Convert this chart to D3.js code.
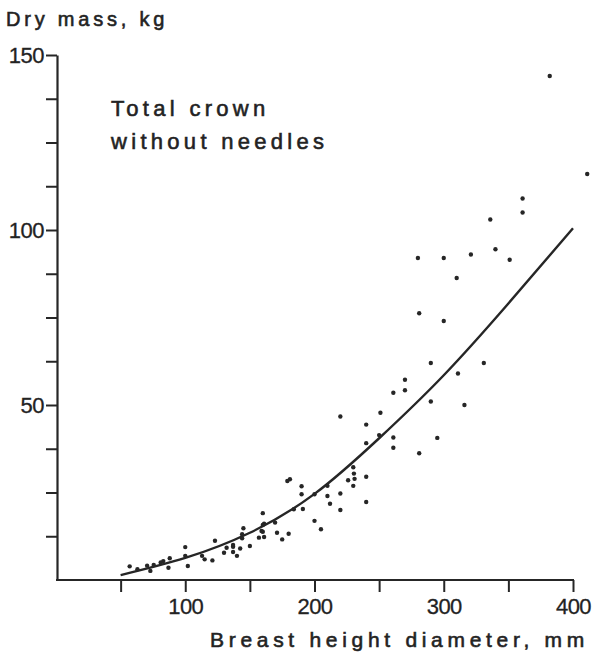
<!DOCTYPE html>
<html>
<head>
<meta charset="utf-8">
<script src="https://cdn.jsdelivr.net/npm/d3@7"></script>
<style>
  html, body { margin: 0; padding: 0; background: #fff; }
  svg { display: block; }
  text { font-family: "Liberation Sans", Arial, Helvetica, sans-serif; fill: #222; }
</style>
</head>
<body>
<svg id="chart" width="597" height="654"></svg>
<script>
// ---- data ----
const diameter = [382, 411, 361, 361, 336, 340, 321, 300, 280, 351, 310, 281, 300, 290, 331, 311, 290, 316,
  270, 270, 261, 251, 220, 240, 250, 261, 295, 281, 261, 240, 230, 230.5, 231, 230, 226, 240, 240, 220, 220,
  210, 210, 212, 200, 190, 190, 181, 179, 191, 184, 200, 205, 160, 169.5, 161, 171, 180, 175, 145, 144, 160,
  161, 157, 160, 159, 123, 144, 137, 132, 142.5, 150, 100, 57, 63, 70.5, 75.6, 73, 83, 88, 87, 100, 102, 113,
  115, 121, 130, 137, 140, 137, 81];
const dryMass = [144, 116, 109, 105, 103, 94.5, 93, 92, 92, 91.5, 86.3, 76.2, 74, 62, 62, 59, 51, 50,
  57.2, 54.2, 53.5, 47.8, 46.7, 44.4, 41.4, 40.7, 40.6, 36.2, 37.8, 39.1, 32.2, 30.4, 28.9, 26.9, 28.5, 29.5, 22.3, 24.7, 20,
  26.9, 24, 21.8, 24.5, 26.8, 24.5, 28.8, 28.3, 20.3, 20.2, 16.9, 14.5, 19.1, 16.4, 16.1, 13.5, 13.2, 11.6, 14.8, 13.1, 13.8,
  12.3, 12.1, 15.7, 14, 11.2, 11.9, 10, 9.2, 9, 9.7, 9.4, 3.9, 3.1, 4.1, 4.3, 2.6, 5.4, 6.2, 3.5, 6.9, 4, 6.9,
  5.9, 5.6, 7.8, 8, 6.9, 9.5, 5];
// fitted curve, read at intervals
const curveD = [50, 100, 150, 200, 250, 300, 350, 400];
const curveM = [1.4, 6.3, 13.5, 24.6, 40.5, 58.5, 79, 100.5];

const xTicks = [50, 100, 150, 200, 250, 300, 350, 400];
const xTickLabels = ["", "100", "", "200", "", "300", "", "400"];
const yTicks = [12.5, 25, 37.5, 50, 62.5, 75, 87.5, 100, 112.5, 125, 137.5, 150];
const yTickLabels = ["", "", "", "50", "", "", "", "100", "", "", "", "150"];

const yTitle = "Dry mass, kg";
const xTitle = "Breast height diameter, mm";
const noteLines = ["Total crown", "without needles"];

// ---- drawing ----
const svg = d3.select("#chart");
const ink = "#262626";

const x = d3.scaleLinear().domain([0, 400]).range([56, 573]);
const y = d3.scaleLinear().domain([0, 150]).range([580, 55]);

// y axis
const yAxis = d3.axisLeft(y)
  .tickValues(yTicks)
  .tickFormat((d, i) => yTickLabels[i])
  .tickSize(11)
  .tickSizeOuter(0)
  .tickPadding(2);
const gy = svg.append("g").attr("transform", `translate(${x(0) + 1},0)`).call(yAxis);
gy.select(".domain").attr("stroke", ink).attr("stroke-width", 2.2);
gy.selectAll(".tick line").attr("stroke", ink).attr("stroke-width", 2);
gy.selectAll(".tick text")
  .attr("font-family", "'Liberation Sans', Arial, sans-serif")
  .attr("font-size", 22).attr("fill", ink)
  .attr("letter-spacing", -0.5)
  .attr("stroke", ink).attr("stroke-width", 0.3)
  .attr("dy", "0.36em");

// x axis
const xAxis = d3.axisBottom(x)
  .tickValues(xTicks)
  .tickFormat((d, i) => xTickLabels[i])
  .tickSize(12)
  .tickSizeOuter(0)
  .tickPadding(6);
const gx = svg.append("g").attr("transform", `translate(0,${y(0)})`).call(xAxis);
gx.select(".domain").attr("stroke", ink).attr("stroke-width", 2.2)
  .attr("d", `M${x(0)},0H${x(400) + 1}`);
gx.selectAll(".tick line").attr("stroke", ink).attr("stroke-width", 2);
gx.selectAll(".tick text")
  .attr("font-family", "'Liberation Sans', Arial, sans-serif")
  .attr("font-size", 22).attr("fill", ink)
  .attr("letter-spacing", -0.5)
  .attr("stroke", ink).attr("stroke-width", 0.3);

// fitted curve
const pts = curveD.map((d, i) => [d, curveM[i]]);
svg.append("path")
  .datum(pts)
  .attr("fill", "none")
  .attr("stroke", ink)
  .attr("stroke-width", 2.4)
  .attr("d", d3.line().x(d => x(d[0])).y(d => y(d[1])).curve(d3.curveNatural));

// scatter points
svg.append("g").selectAll("circle")
  .data(diameter.map((d, i) => [d, dryMass[i]]))
  .join("circle")
  .attr("cx", d => x(d[0]))
  .attr("cy", d => y(d[1]))
  .attr("r", 2.2)
  .attr("fill", ink);

// titles
svg.append("text")
  .attr("x", 6).attr("y", 26)
  .attr("font-size", 20).attr("letter-spacing", 3.8)
  .attr("stroke", ink).attr("stroke-width", 0.6)
  .text(yTitle);

svg.append("text")
  .attr("x", 210).attr("y", 647)
  .attr("font-size", 21).attr("letter-spacing", 4.7)
  .attr("stroke", ink).attr("stroke-width", 0.6)
  .text(xTitle);

const note = svg.append("text")
  .attr("font-size", 22).attr("letter-spacing", 4.3)
  .attr("stroke", ink).attr("stroke-width", 0.6);
noteLines.forEach((t, i) => {
  note.append("tspan").attr("x", 111).attr("y", 116 + i * 33).text(t);
});
</script>
</body>
</html>
